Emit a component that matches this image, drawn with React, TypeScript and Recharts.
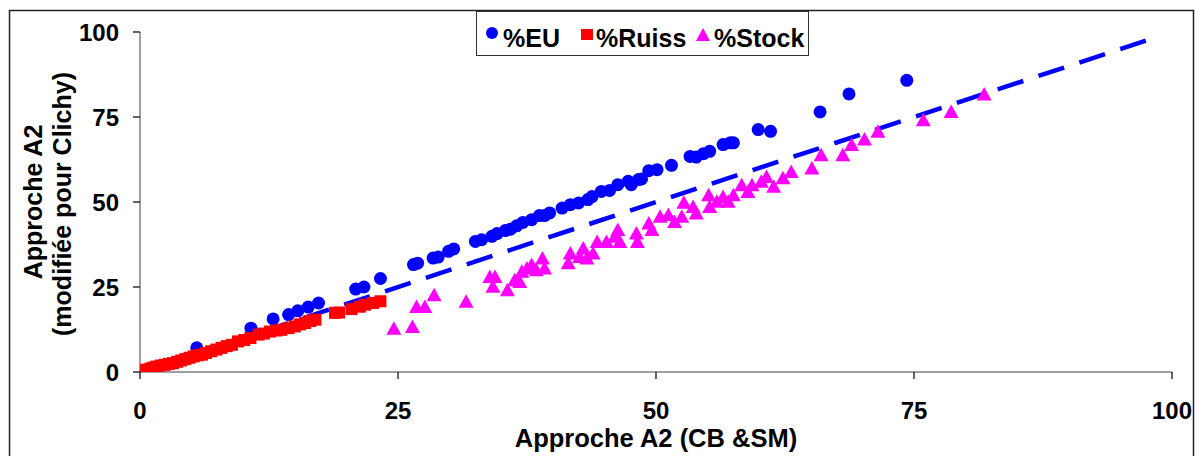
import React from 'react';
import { ScatterChart, Scatter, XAxis, YAxis, Legend } from 'recharts';

const xTicks = [0, 25, 50, 75, 100];
const yTicks = [0, 25, 50, 75, 100];

const euX = [0.3, 5.5, 10.75, 12.9, 14.4, 15.3, 16.3, 17.3, 20.9, 21.7, 23.3, 26.5, 26.9, 28.4, 28.9, 29.9, 30.4, 32.5, 33.1, 34.1, 34.6, 35.4, 35.9, 36.5, 37.1, 37.95, 38.7, 39.2, 39.7, 40.9, 41.7, 42.5, 43.4, 43.8, 44.7, 45.5, 46.3, 47.3, 47.6, 48.3, 48.6, 49.3, 50.1, 51.5, 53.3, 53.9, 54.6, 55.2, 56.5, 57.2, 57.5, 59.9, 61.1, 65.9, 68.7, 74.3];
const euY = [0.3, 7.1, 12.9, 15.6, 16.9, 18.0, 19.1, 20.3, 24.4, 25.0, 27.5, 31.6, 32.0, 33.5, 33.8, 35.5, 36.2, 38.4, 38.9, 39.9, 40.7, 41.6, 42.0, 43.0, 44.0, 44.8, 46.0, 46.0, 46.8, 48.2, 49.2, 49.7, 50.7, 51.6, 53.1, 53.4, 55.1, 56.1, 55.1, 56.6, 56.8, 59.2, 59.5, 60.8, 63.4, 63.2, 64.2, 64.9, 66.9, 67.4, 67.4, 71.3, 70.8, 76.5, 81.8, 85.8];

const ruissX = [0.3, 0.6, 1.0, 1.3, 1.6, 2.0, 2.4, 2.8, 3.2, 3.6, 4.0, 4.4, 4.8, 5.2, 5.6, 6.0, 6.4, 6.9, 7.4, 7.9, 8.4, 8.9, 9.5, 10.1, 10.7, 11.5, 12.0, 12.6, 13.2, 13.7, 14.4, 15.0, 15.5, 16.0, 16.5, 17.0, 18.9, 19.3, 20.5, 21.3, 21.8, 22.6, 23.3];
const ruissY = [0.4, 0.7, 1.0, 1.3, 1.6, 1.9, 2.1, 2.4, 2.6, 3.0, 3.4, 3.8, 4.2, 4.6, 4.9, 5.1, 5.6, 6.1, 6.6, 7.1, 7.6, 8.0, 9.0, 9.4, 10.0, 11.0, 11.3, 11.9, 12.2, 12.4, 12.9, 13.4, 14.0, 14.4, 15.0, 15.4, 17.4, 17.5, 18.5, 19.2, 19.8, 20.3, 20.8];

const stockX = [24.6, 26.4, 26.8, 27.6, 28.5, 31.6, 33.9, 34.4, 34.2, 35.6, 36.3, 36.8, 37.0, 37.5, 37.95, 38.4, 39.0, 39.2, 41.5, 41.7, 42.6, 42.95, 43.3, 43.9, 44.3, 45.2, 46.0, 46.3, 46.5, 48.1, 48.2, 49.3, 49.6, 50.4, 51.2, 51.8, 52.5, 52.7, 53.6, 53.9, 55.1, 55.2, 55.9, 56.5, 57.0, 57.5, 58.3, 58.9, 59.3, 60.2, 60.7, 61.4, 62.3, 63.1, 65.1, 66.0, 68.1, 68.95, 70.2, 71.5, 75.9, 78.6, 81.8];
const stockY = [12.9, 13.4, 19.3, 19.3, 22.7, 20.8, 28.1, 28.1, 25.2, 24.2, 27.1, 26.6, 29.6, 30.6, 31.6, 30.1, 33.5, 30.6, 32.1, 35.0, 34.0, 36.5, 33.5, 35.0, 38.4, 38.4, 39.9, 41.9, 38.4, 40.9, 38.4, 43.8, 41.9, 45.8, 46.3, 44.3, 45.8, 49.9, 48.7, 46.8, 52.1, 48.7, 50.2, 51.6, 50.2, 52.1, 55.1, 53.1, 55.1, 56.1, 57.5, 54.6, 57.1, 59.0, 60.0, 63.9, 63.9, 66.9, 68.5, 70.8, 74.2, 76.6, 81.8];

const trendX = [0, 98.4];
const trendY = [0, 98.4];

const seriesNames = ['%EU', '%Ruiss', '%Stock'];
const xTitle = 'Approche A2 (CB &SM)';
const yTitle1 = 'Approche A2';
const yTitle2 = '(modifiée pour Clichy)';

const zip = (xs: number[], ys: number[]) => xs.map((x, i) => ({ x, y: ys[i] }));
const euData = zip(euX, euY);
const ruissData = zip(ruissX, ruissY);
const stockData = zip(stockX, stockY);
const trendData = zip(trendX, trendY);

const FONT = '"Liberation Sans", Arial, Helvetica, sans-serif';
const BLUE = '#0000FF';
const RED = '#FF0000';
const MAGENTA = '#FF00FF';

const CircleShape = (p: any) => <circle cx={p.cx} cy={p.cy} r={6.5} fill={BLUE} />;
const SquareShape = (p: any) => <rect x={p.cx - 6} y={p.cy - 6} width={12} height={12} fill={RED} />;
const TriShape = (p: any) => (
  <path d={`M${p.cx},${p.cy - 7} L${p.cx + 7.5},${p.cy + 6.5} L${p.cx - 7.5},${p.cy + 6.5} Z`} fill={MAGENTA} />
);
const NoShape = () => <g />;

const renderLegend = () => (
  <div style={{ width: 333, height: 45, border: '1px solid #333', boxSizing: 'border-box', background: '#fff', position: 'relative' }}>
    <svg width={333} height={45} style={{ display: 'block', position: 'absolute', left: -1, top: -1 }}>
      <circle cx={16} cy={22} r={6} fill={BLUE} />
      <text x={27} y={36} fontFamily={FONT} fontWeight="bold" fontSize={25} fill="#000">{seriesNames[0]}</text>
      <rect x={105} y={18} width={12} height={11} fill={RED} />
      <text x={120} y={36} fontFamily={FONT} fontWeight="bold" fontSize={25} fill="#000">{seriesNames[1]}</text>
      <path d="M227,17 L234,30 L220,30 Z" fill={MAGENTA} />
      <text x={238} y={36} fontFamily={FONT} fontWeight="bold" fontSize={25} fill="#000">{seriesNames[2]}</text>
    </svg>
  </div>
);

const tickStyle = { fontFamily: FONT, fontWeight: 'bold', fontSize: 24, fill: '#000' } as any;

export default function App() {
  return (
    <div style={{ position: 'absolute', left: 0, top: 0, width: 1195, height: 456, overflow: 'hidden', background: '#fff' }}>
      <ScatterChart width={1195} height={456} margin={{ top: 32, right: 23, bottom: 24, left: 0 }}>
        <XAxis
          type="number"
          dataKey="x"
          domain={[0, 100]}
          ticks={xTicks}
          interval={0}
          height={60}
          tickSize={7}
          tickMargin={23}
          axisLine={{ stroke: '#808080', strokeWidth: 1.5 }}
          tickLine={{ stroke: '#000', strokeWidth: 1.2 }}
          tick={tickStyle}
          allowDataOverflow
        />
        <YAxis
          type="number"
          dataKey="y"
          domain={[0, 100]}
          ticks={yTicks}
          interval={0}
          width={140}
          tickSize={7}
          tickMargin={14}
          axisLine={{ stroke: '#808080', strokeWidth: 1.5 }}
          tickLine={{ stroke: '#000', strokeWidth: 1.2 }}
          tick={tickStyle}
          allowDataOverflow
        />
        <Legend
          layout="horizontal"
          verticalAlign="middle"
          align="center"
          content={renderLegend}
          wrapperStyle={{ position: 'absolute', left: 476, top: 11, width: 333, height: 45 }}
        />
        <Scatter
          name="trend"
          data={trendData}
          line={{ stroke: BLUE, strokeWidth: 4.5, strokeDasharray: '27 16' }}
          lineType="joint"
          shape={NoShape}
          legendType="none"
          isAnimationActive={false}
        />
        <Scatter name={seriesNames[0]} data={euData} shape={CircleShape} isAnimationActive={false} />
        <Scatter name={seriesNames[1]} data={ruissData} shape={SquareShape} isAnimationActive={false} />
        <Scatter name={seriesNames[2]} data={stockData} shape={TriShape} isAnimationActive={false} />
      </ScatterChart>
      <svg width={1195} height={456} style={{ position: 'absolute', left: 0, top: 0, pointerEvents: 'none' }}>
        <rect x={9.5} y={10.5} width={1184} height={500} fill="none" stroke="#222" strokeWidth={1.5} />
        <text x={656} y={447} textAnchor="middle" fontFamily={FONT} fontWeight="bold" fontSize={25.5} fill="#000">{xTitle}</text>
        <text x={41.5} y={202} transform="rotate(-90 41.5 202)" textAnchor="middle" fontFamily={FONT} fontWeight="bold" fontSize={25} fill="#000">{yTitle1}</text>
        <text x={71} y={204} transform="rotate(-90 71 204)" textAnchor="middle" fontFamily={FONT} fontWeight="bold" fontSize={25} fill="#000">{yTitle2}</text>
      </svg>
    </div>
  );
}
